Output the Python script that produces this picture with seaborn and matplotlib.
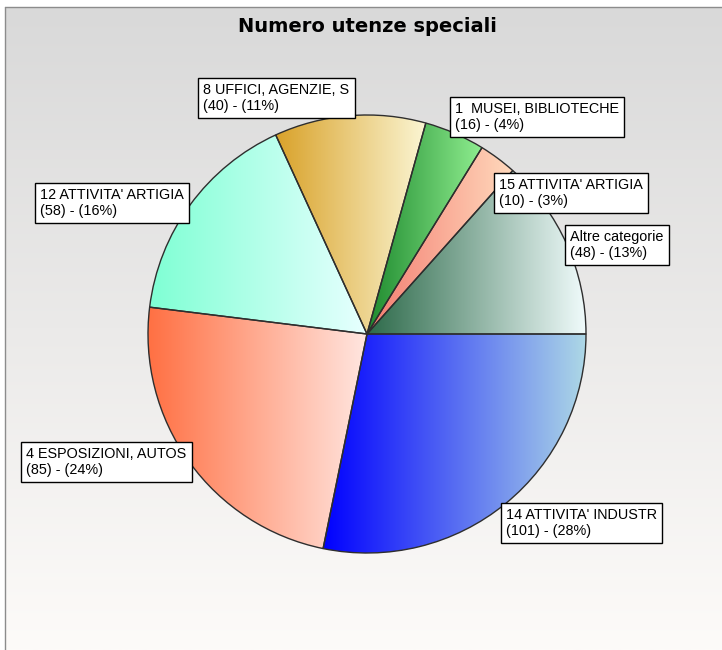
import numpy as np
import matplotlib
matplotlib.use("Agg")
import matplotlib.pyplot as plt
import matplotlib.colors as mcolors
import seaborn as sns

# data
title = "Numero utenze speciali"
categories = ["14 ATTIVITA' INDUSTR", "4 ESPOSIZIONI, AUTOS", "12 ATTIVITA' ARTIGIA",
              "8 UFFICI, AGENZIE, S", "1  MUSEI, BIBLIOTECHE", "15 ATTIVITA' ARTIGIA",
              "Altre categorie"]
counts = [101, 85, 58, 40, 16, 10, 48]

# style: (dark, light) gradient ends for each slice, left -> right
grad_colors = [("#0000ff", "#add8e6"),
               ("#ff7043", "#ffe6e0"),
               ("#7fffd4", "#e8ffff"),
               ("#d9a22a", "#fbf6d4"),
               ("#1e8a2e", "#90ee90"),
               ("#f47c70", "#ffd9bc"),
               ("#2d6a4a", "#f0fbfb")]
# box top-left corners in pixels (from top of image)
label_xy = [(501, 503), (21, 442), (35, 183), (198, 78), (450, 97), (494, 173), (565, 225)]

W, H = 722, 650
cx, cy, R = 367, 334, 219
FS = 10.4
PAD = 0.36
pad_px = PAD * FS * 100 / 72


def py(y):
    return H - y


sns.set_theme(style="white")
plt.rcParams['font.family'] = ['Liberation Sans', 'DejaVu Sans']

fig = plt.figure(figsize=(W / 100, H / 100), dpi=100)
ax = fig.add_axes([0, 0, 1, 1])

# background panel with vertical gradient
top = np.array(mcolors.to_rgb("#d9d9d9"))
bot = np.array(mcolors.to_rgb("#fdfbf9"))
t = np.linspace(0, 1, 256)[:, None]
bg = (top * (1 - t) + bot * t)[:, None, :]
ax.imshow(bg, extent=(5, W, 0, py(7)), aspect='auto', zorder=0)
ax.plot([5, 5], [0, py(7)], color="#8c8c8c", lw=1, zorder=1)
ax.plot([5, W], [py(7), py(7)], color="#8c8c8c", lw=1, zorder=1)

wedges, _ = ax.pie(counts, center=(cx, py(cy)), radius=R, startangle=0,
                   counterclock=False, frame=True,
                   wedgeprops=dict(facecolor='none', edgecolor='#2e2e2e', linewidth=1))

total = sum(counts)
for w, (c0, c1) in zip(wedges, grad_colors):
    w.set_zorder(3)
    ang = np.radians(np.linspace(w.theta1, w.theta2, 200))
    xs = np.concatenate([[w.center[0]], w.center[0] + w.r * np.cos(ang)])
    ys = np.concatenate([[w.center[1]], w.center[1] + w.r * np.sin(ang)])
    a = np.array(mcolors.to_rgb(c0))
    b = np.array(mcolors.to_rgb(c1))
    s = np.linspace(0, 1, 256)[:, None]
    img = (a * (1 - s) + b * s)[None, :, :]
    im = ax.imshow(img, extent=(xs.min(), xs.max(), ys.min(), ys.max()),
                   aspect='auto', interpolation='bilinear', zorder=2)
    im.set_clip_path(w)

for name, n, (bx, by) in zip(categories, counts, label_xy):
    pct = round(n / total * 100)
    ax.text(bx + pad_px, py(by + pad_px), f"{name}\n({n}) - ({pct}%)", ha='left', va='top',
            fontsize=FS, linespacing=1.18, color='black', zorder=5,
            bbox=dict(boxstyle=f'square,pad={PAD}', fc='white', ec='black', lw=1))

ax.text(cx, py(27), title, ha='center', va='center', fontsize=14,
        fontweight='bold', family='DejaVu Sans', color='black', zorder=5)

ax.set_xlim(0, W)
ax.set_ylim(0, H)
ax.set_aspect('auto')
ax.axis('off')

fig.savefig("out.png", dpi=100, facecolor='white')
